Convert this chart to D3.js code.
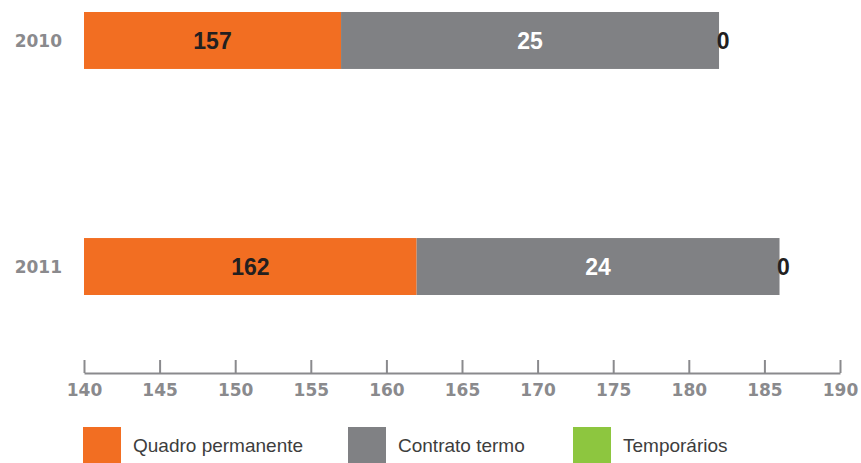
<!DOCTYPE html>
<html>
<head>
<meta charset="utf-8">
<script src="https://cdn.jsdelivr.net/npm/d3@7"></script>
<style>
  body { margin: 0; background: #fff; }
  svg { display: block; font-family: "Liberation Sans", Arial, sans-serif; }
</style>
</head>
<body>
<div id="chart"></div>
<script>
// data
var years = ["2010", "2011"];
var series = ["Quadro permanente", "Contrato termo", "Temporários"];
var quadro = [157, 162];
var contrato = [25, 24];
var temporarios = [0, 0];
var ticks = [140, 145, 150, 155, 160, 165, 170, 175, 180, 185, 190];

var colors = ["#f26e22", "#808184", "#8dc63f"];
var labelColors = ["#231f20", "#ffffff", "#231f20"];

var width = 861, height = 463;

var svg = d3.select("#chart").append("svg")
    .attr("width", width)
    .attr("height", height);

var x = d3.scaleLinear().domain([140, 190]).range([84, 840]);
var y = d3.scaleBand().domain(years).range([12, 295]).paddingInner(0.748).paddingOuter(0);

var rows = years.map(function(yr, i) {
    return { year: yr, values: [quadro[i], contrato[i], temporarios[i]] };
});

rows.forEach(function(r) {
    var start = 0;
    r.values.forEach(function(v, j) {
        var seg = { x0: start, x1: start + v };
        start += v;
        var a = x(Math.max(seg.x0, 140)), b = x(Math.max(seg.x1, 140));
        svg.append("rect")
            .attr("x", a)
            .attr("y", y(r.year))
            .attr("width", Math.max(b - a, 0))
            .attr("height", y.bandwidth())
            .style("fill", colors[j]);
        svg.append("text")
            .attr("x", v == 0 ? a + 4 : (a + b) / 2)
            .attr("y", y(r.year) + y.bandwidth() / 2)
            .attr("dy", "0.36em")
            .attr("text-anchor", "middle")
            .style("font-size", "23px")
            .style("font-weight", "bold")
            .style("fill", labelColors[j])
            .text(v);
    });
});

// year labels
svg.selectAll(".yr")
    .data(years)
    .enter()
    .append("text")
    .attr("x", 62)
    .attr("y", function(d) { return y(d) + y.bandwidth() / 2; })
    .attr("dy", "0.36em")
    .attr("text-anchor", "end")
    .style("font-family", "DejaVu Sans, sans-serif")
    .style("font-size", "17px")
    .style("font-weight", "bold")
    .style("fill", "#8a8a8d")
    .text(function(d) { return d; });

// axis
var axis = svg.append("g")
    .attr("transform", "translate(0,373)")
    .call(d3.axisBottom(x).tickValues(ticks).tickSizeInner(-13).tickSizeOuter(0).tickPadding(11));
axis.selectAll("path, line").style("stroke", "#8a8a8d").style("stroke-width", 2);
axis.selectAll("text")
    .style("font-size", "17px")
    .style("font-weight", "bold")
    .style("fill", "#8a8a8d")
    .style("font-family", "DejaVu Sans, sans-serif");

// legend
var legX = [83, 348, 573];
var leg = svg.selectAll(".leg")
    .data(series)
    .enter()
    .append("g")
    .attr("transform", function(d, i) { return "translate(" + legX[i] + ",427)"; });
leg.append("rect")
    .attr("width", 38)
    .attr("height", 36)
    .style("fill", function(d, i) { return colors[i]; });
leg.append("text")
    .attr("x", 50)
    .attr("y", 18)
    .attr("dy", "0.36em")
    .style("font-size", "19px")
    .style("fill", "#3d3d3d")
    .text(function(d) { return d; });
</script>
</body>
</html>
